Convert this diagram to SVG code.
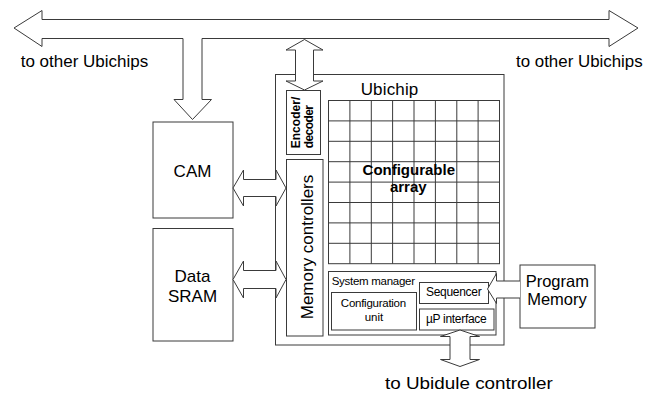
<svg xmlns="http://www.w3.org/2000/svg" width="656" height="394" viewBox="0 0 656 394">
<style>
.b{fill:#fff;stroke:#3a3a3a;stroke-width:1}
.a{fill:#fff;stroke:#3a3a3a;stroke-width:1;stroke-linejoin:miter}
.g{fill:none;stroke:#3a3a3a;stroke-width:1}
text{font-family:"Liberation Sans",Arial,sans-serif;fill:#000}
.t17{font-size:17px}
.t16{font-size:16.5px}
.s{font-size:12px}
.xs{font-size:11.5px}
.bold{font-weight:bold}
.m{text-anchor:middle}
</style>
<rect width="656" height="394" fill="#fff"/>
<g id="ubichip">
<rect class="b" x="275.5" y="74.5" width="228.5" height="270.5"/>
<text class="t17" x="360.7" y="95" textLength="57.6">Ubichip</text>
</g>
<g id="array">
<rect class="b" x="328.5" y="100.5" width="171" height="163.2"/>
<path class="g" d="M349.9,100.5V263.7M371.3,100.5V263.7M392.6,100.5V263.7M414,100.5V263.7M435.4,100.5V263.7M456.8,100.5V263.7M478.1,100.5V263.7M328.5,120.9H499.5M328.5,141.3H499.5M328.5,161.7H499.5M328.5,182.1H499.5M328.5,202.5H499.5M328.5,222.9H499.5M328.5,243.3H499.5"/>
<text class="bold m" style="font-size:15px" x="408.8" y="175">Configurable</text>
<text class="bold m" style="font-size:15px" x="408.3" y="191.5">array</text>
</g>
<g id="encoder">
<rect class="b" x="286.5" y="90.5" width="34" height="64"/>
<text class="bold s" transform="translate(300,148.3) rotate(-90)" textLength="51.7">Encoder/</text>
<text class="bold s" transform="translate(313.3,148.3) rotate(-90)" textLength="43.3">decoder</text>
</g>
<g id="memctrl">
<rect class="b" x="286.5" y="159.5" width="36.5" height="176.5"/>
<text class="t17 m" transform="translate(313.3,247) rotate(-90)">Memory controllers</text>
</g>
<g id="sysmgr">
<rect class="b" x="328.5" y="271.5" width="167.5" height="63.5"/>
<text class="xs" x="331.7" y="285" textLength="83.3">System manager</text>
</g>
<g id="config">
<rect class="b" x="331.5" y="292.5" width="85" height="37.5"/>
<text class="xs m" x="373.5" y="306.7" textLength="65.3">Configuration</text>
<text class="xs m" x="374" y="320.7">unit</text>
</g>
<g id="sequencer">
<rect class="b" x="419.5" y="282.5" width="69" height="21"/>
<text class="s" x="426" y="295.7" textLength="55.7">Sequencer</text>
</g>
<g id="upif">
<rect class="b" x="419.5" y="309" width="74.5" height="21"/>
<text class="s" x="426" y="323.3" textLength="60.7">µP interface</text>
</g>
<g id="cam">
<rect class="b" x="153" y="122" width="80" height="96"/>
<text class="t17 m" x="192.5" y="176.7">CAM</text>
</g>
<g id="sram">
<rect class="b" x="153" y="228.5" width="80" height="112.5"/>
<text class="t17 m" x="192.5" y="281.7">Data</text>
<text class="t17 m" x="192.5" y="301.7">SRAM</text>
</g>
<g id="progmem">
<rect class="b" x="520" y="265" width="75" height="63"/>
<text class="t16 m" x="557.3" y="286.7">Program</text>
<text class="t16 m" x="557" y="305">Memory</text>
</g>
<g id="connectors">
<path class="a" d="M14,28 L42,10.5 L42,19.5 L609,19.5 L609,10.5 L638,28 L609,46.5 L609,38.5 L202,38.5 L202,99.5 L211.5,99.5 L192.5,119.5 L174,99.5 L183,99.5 L183,38.5 L42,38.5 L42,46.5 Z"/>
<path class="a" d="M304.5,39.5 L323,50 L313.5,50 L313.5,81 L323,81 L304.5,90 L286,81 L295.5,81 L295.5,50 L286,50 Z"/>
<path class="a" d="M233,188 L243.5,170 L243.5,179.5 L276,179.5 L276,170 L286,188 L276,206 L276,196.5 L243.5,196.5 L243.5,206 Z"/>
<path class="a" d="M233,279.5 L243.5,261 L243.5,270.5 L276,270.5 L276,261 L286,279.5 L276,298 L276,288.5 L243.5,288.5 L243.5,298 Z"/>
<path class="a" d="M460,330 L479.5,336.5 L470,336.5 L470,359.5 L479.5,359.5 L460,366.5 L440.5,359.5 L450,359.5 L450,336.5 L440.5,336.5 Z"/>
<path class="a" d="M520,281 L496.5,281 L496.5,273.5 L487.5,289 L496.5,303.5 L496.5,298 L520,298"/>
</g>
<text class="t17" x="20.7" y="66.7" textLength="127.6" lengthAdjust="spacingAndGlyphs">to other Ubichips</text>
<text class="t17" x="516" y="66.7" textLength="126.7" lengthAdjust="spacingAndGlyphs">to other Ubichips</text>
<text class="t17" x="385" y="389.3" textLength="167.7" lengthAdjust="spacingAndGlyphs">to Ubidule controller</text>
</svg>
